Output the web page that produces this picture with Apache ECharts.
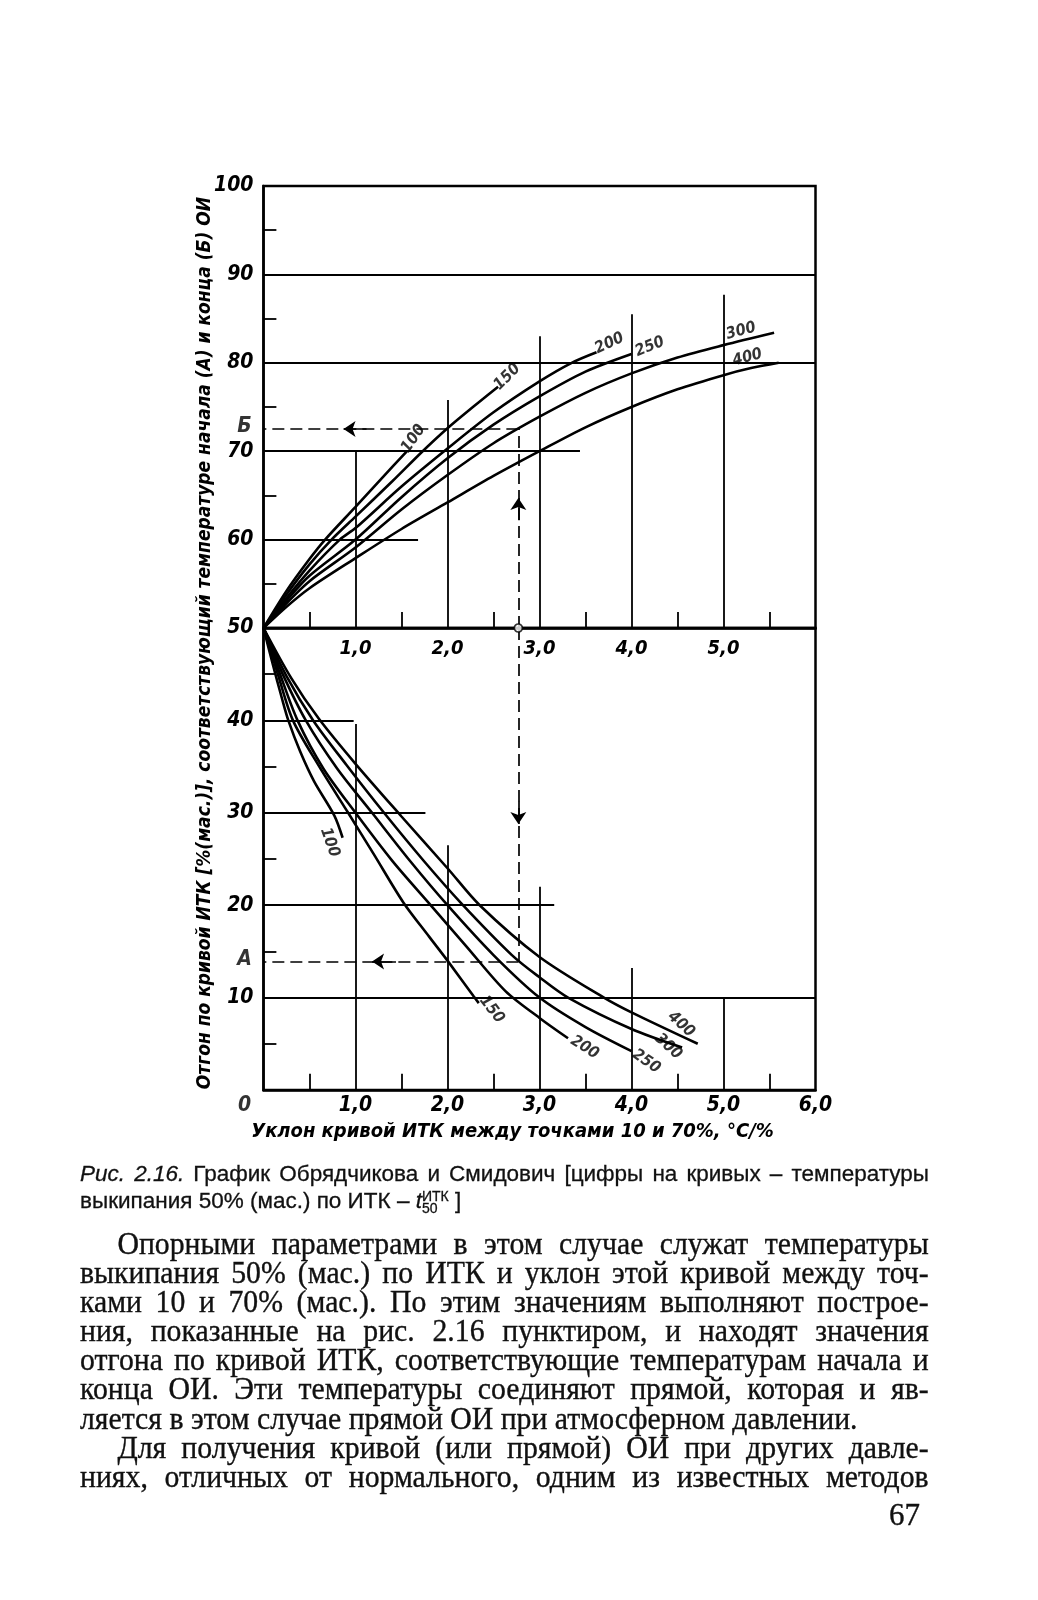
<!DOCTYPE html>
<html><head><meta charset="utf-8">
<script src="https://cdn.jsdelivr.net/npm/echarts/dist/echarts.min.js"></script>
<style>
html,body{margin:0;padding:0;background:#fff;}
#page{position:relative;width:1038px;height:1600px;overflow:hidden;background:#fff;}
#chart{position:absolute;left:0;top:0;width:1038px;height:1600px;}
.blk{position:absolute;left:80px;transform-origin:0 0;color:#111;white-space:nowrap;}
.j{text-align:justify;text-align-last:justify;}
.l{text-align:left;}
#cap{top:1161px;width:849px;font-family:'Liberation Sans','Arial',sans-serif;font-size:22.5px;line-height:26.5px;-webkit-text-stroke:0.3px #111;}
#body{top:1229px;width:884px;transform:scaleX(0.96);font-family:'Liberation Serif','Times New Roman',serif;font-size:31px;line-height:29.1px;-webkit-text-stroke:0.35px #111;}
.ss{display:inline-block;vertical-align:middle;line-height:12px;font-size:14px;text-align:left;}
.ss span{display:block;}
#pg{position:absolute;left:889px;top:1497px;font-family:'Liberation Serif',serif;font-size:31px;color:#111;-webkit-text-stroke:0.35px #111;}
</style></head>
<body><div id="page">
<div id="chart"></div>
<div id="cap" class="blk">
<div class="j"><i>Рис. 2.16.</i> График Обрядчикова и Смидович [цифры на кривых – температуры</div>
<div class="l">выкипания 50% (мас.) по ИТК – <i>t</i><span class="ss"><span>ИТК</span><span>50</span></span> ]</div>
</div>
<div id="body" class="blk">
<div class="j" style="padding-left:39px">Опорными параметрами в этом случае служат температуры</div>
<div class="j">выкипания 50% (мас.) по ИТК и уклон этой кривой между точ-</div>
<div class="j">ками 10 и 70% (мас.). По этим значениям выполняют построе-</div>
<div class="j">ния, показанные на рис. 2.16 пунктиром, и находят значения</div>
<div class="j">отгона по кривой ИТК, соответствующие температурам начала и</div>
<div class="j">конца ОИ. Эти температуры соединяют прямой, которая и яв-</div>
<div class="l">ляется в этом случае прямой ОИ при атмосферном давлении.</div>
<div class="j" style="padding-left:39px">Для получения кривой (или прямой) ОИ при других давле-</div>
<div class="j">ниях, отличных от нормального, одним из известных методов</div>
</div>
<div id="pg">67</div>
</div>
<script>
// ---- axis tick labels ----
const xLabels = ['0','1,0','2,0','3,0','4,0','5,0','6,0'];
const curveTemps = ['100','150','200','250','300','400'];

// ---- upper family (end temperature, Б), y from 50 to 100 ----
const up100 = [[0,50],[0.25,54.2],[0.5,57.8],[0.67,60],[1.0,63.7],[1.3,67.1],[1.56,70]];
const up150 = [[0,50],[0.25,53.8],[0.5,57.2],[0.74,60],[1.0,62.6],[1.4,66.6],[1.73,70],[2.0,72.6],[2.3,75.2],[2.55,77.3]];
const up200 = [[0,50],[0.25,53.4],[0.5,56.5],[0.83,60],[1.0,61.3],[1.5,66.0],[2.0,70.3],[2.5,74.4],[3.0,77.9],[3.35,80],[3.62,81.2]];
const up250 = [[0,50],[0.25,53.1],[0.5,55.9],[1.0,60],[1.5,64.8],[2.0,69.2],[2.5,73.0],[3.0,76.2],[3.5,79.0],[4.0,81.0]];
const up300 = [[0,50],[0.25,52.8],[0.5,55.3],[1.0,59.1],[1.5,63.4],[2.0,67.3],[2.5,70.9],[3.0,73.9],[3.5,76.6],[4.0,78.8],[4.5,80.6],[5.0,82.0],[5.55,83.4]];
const up400 = [[0,50],[0.25,52.4],[0.5,54.5],[1.0,57.9],[1.5,61.2],[2.0,64.2],[2.5,67.2],[3.0,70.0],[3.5,72.7],[4.0,75.0],[4.5,77.0],[5.0,78.6],[5.3,79.4],[5.6,80.0]];

// ---- lower family (start temperature, A), y from 0 to 50 ----
const low100 = [[0,50],[0.1,46.1],[0.2,42.4],[0.27,40],[0.4,36.6],[0.55,33.4],[0.77,29.7],[0.86,27.3]];
const low150 = [[0,50],[0.15,45.2],[0.32,40],[0.6,35.1],[0.92,30],[1.2,25.5],[1.52,20.3],[1.8,16.6],[2.0,14.0],[2.28,10.2],[2.34,9.4]];
const low200 = [[0,50],[0.18,45],[0.37,40],[0.65,34.8],[1.0,30],[1.4,24.8],[1.8,20.2],[2.2,15.6],[2.63,10.7],[3.0,7.8],[3.31,5.6]];
const low250 = [[0,50],[0.2,45.2],[0.46,40],[0.8,34.8],[1.18,30],[1.6,24.7],[2.0,20],[2.5,14.6],[3.0,10],[3.5,6.8],[4.0,4.2]];
const low300 = [[0,50],[0.25,44.8],[0.54,40],[0.9,35.2],[1.31,30],[1.75,24.7],[2.15,20.2],[2.7,14.6],[3.0,12.2],[3.31,10],[4.0,6.6],[4.55,4.6]];
const low400 = [[0,50],[0.3,44.6],[0.6,40.2],[1.0,35.3],[1.5,29.6],[2.0,24.0],[2.35,20],[3.0,14.4],[3.7,10],[4.0,8.4],[4.72,5.0]];

// ---- curve label anchors [x, y, rotation] ----
const upLabelPos = [[1.63,71.4,55],[2.65,78.4,45],[3.76,82.2,25],[4.2,81.8,22],[5.19,83.6,15],[5.26,80.6,15]];
const lowLabelPos = [[0.72,26.8,-70],[2.48,8.7,-52],[3.49,4.6,-32],[4.16,3.1,-35],[4.4,4.7,-42],[4.54,7.1,-42]];

// ---- construction (dashed) ----
const slopeX = 2.77;
const pointB = 72.5;
const pointA = 13.9;

// ---- nomogram grid segments ----
const upFullH = [90,80];
const lowFullH = [10];
const upPartH = [[70,3.44],[60,1.68]];
const lowPartH = [[40,0.98],[30,1.76],[20,3.16]];
const upperV = [[1,70],[2,75.8],[3,83.0],[4,85.5],[5,87.7]];
const lowerV = [[1,39.6],[2,26.5],[3,22.0],[4,13.2],[5,10]];
const upTicks = [95,85,75,65,55];
const lowTicks = [45,35,25,15,5];
const halfTicks = [0.5,1.5,2.5,3.5,4.5,5.5];

const FONT = "'DejaVu Sans Condensed','Liberation Sans Narrow','DejaVu Sans',sans-serif";
const lblStyle = {fontFamily: FONT, fontStyle:'italic', fontWeight:'bold', color:'#000'};

const seg = (a,b) => ({coords:[a,b]});
const upHeavy = upFullH.map(y => seg([0,y],[6,y]));
const lowHeavy = lowFullH.map(y => seg([0,y],[6,y]));
const upLight = [], lowLight = [];
upPartH.forEach(([y,x1]) => upLight.push(seg([0,y],[x1,y])));
lowPartH.forEach(([y,x1]) => lowLight.push(seg([0,y],[x1,y])));
upperV.forEach(([x,y1]) => upLight.push(seg([x,50],[x,y1])));
lowerV.forEach(([x,y1]) => lowLight.push(seg([x,0],[x,y1])));
upTicks.forEach(y => upLight.push(seg([0,y],[0.14,y])));
lowTicks.forEach(y => lowLight.push(seg([0,y],[0.14,y])));
halfTicks.forEach(x => { upLight.push(seg([x,50],[x,51.8])); lowLight.push(seg([x,0],[x,1.75])); });

const linesSeries = (data, g, w, extra) => Object.assign({
  type:'lines', coordinateSystem:'cartesian2d', xAxisIndex:g, yAxisIndex:g, data:data, silent:true,
  symbol:'none', lineStyle:{color:'#000', width:w, opacity:1}, z:3
}, extra || {});

const curveSeries = [];
[up100,up150,up200,up250,up300,up400].forEach(d => curveSeries.push({
  type:'line', xAxisIndex:0, yAxisIndex:0, data:d, smooth:0.3, symbol:'none', silent:true,
  lineStyle:{color:'#000', width:2.6}, z:5}));
[low100,low150,low200,low250,low300,low400].forEach(d => curveSeries.push({
  type:'line', xAxisIndex:1, yAxisIndex:1, data:d, smooth:0.3, symbol:'none', silent:true,
  lineStyle:{color:'#000', width:2.6}, z:5}));

const upLabels = upLabelPos.map((p,i) => ({value:[p[0],p[1]], name:curveTemps[i], label:{rotate:p[2]}}));
const lowLabels = lowLabelPos.map((p,i) => ({value:[p[0],p[1]], name:curveTemps[i], label:{rotate:p[2]}}));

const yTitle = 'Отгон по кривой ИТК [%(мас.)], соответствующий температуре начала (А) и конца (Б) ОИ';

const axisCommon = {
  axisLine:{show:true, lineStyle:{color:'#000', width:2.5}}, axisTick:{show:false}, splitLine:{show:false}
};
const markLabel = (g, items, offset) => ({
  type:'scatter', xAxisIndex:g, yAxisIndex:g, data:items, symbolSize:0, silent:true, z:9,
  label:Object.assign({show:true, position:'inside', fontSize:21, offset:offset, formatter:p => p.data.name}, lblStyle)
});

const option = {
  animation:false,
  backgroundColor:'transparent',
  grid:[
    {left:263.5, top:186, width:552, height:442, show:true, borderColor:'#000', borderWidth:2.5},
    {left:263.5, top:628, width:552, height:462, show:true, borderColor:'#000', borderWidth:2.5}
  ],
  xAxis:[
    Object.assign({type:'value', gridIndex:0, min:0, max:6, interval:1,
      axisLabel:Object.assign({fontSize:20, margin:11, formatter:v => (v>0 && v<6) ? xLabels[Math.round(v)] : ''}, lblStyle)}, axisCommon),
    Object.assign({type:'value', gridIndex:1, min:0, max:6, interval:1,
      axisLabel:Object.assign({fontSize:21, margin:5, formatter:v => v===0 ? '' : xLabels[Math.round(v)]}, lblStyle),
      name:'Уклон кривой ИТК между точками 10 и 70%, °C/%', nameLocation:'middle', nameGap:32,
      nameTextStyle:{fontFamily:FONT, fontStyle:'italic', fontWeight:'bold', fontSize:20, color:'#000', padding:[0,54,0,0]}}, axisCommon)
  ],
  yAxis:[
    Object.assign({type:'value', gridIndex:0, min:50, max:100, interval:10,
      axisLabel:Object.assign({fontSize:21, margin:10, formatter:v => v===50 ? '' : String(v)}, lblStyle)}, axisCommon),
    Object.assign({type:'value', gridIndex:1, min:0, max:50, interval:10,
      axisLabel:Object.assign({fontSize:21, margin:10, formatter:v => v===0 ? '' : String(v)}, lblStyle)}, axisCommon)
  ],
  graphic:[{type:'text', x:205, y:643, rotation:Math.PI/2, silent:true,
    style:{text:yTitle, x:0, y:0, align:'center', verticalAlign:'middle', fill:'#000',
      font:"italic bold 19px 'DejaVu Sans Condensed','DejaVu Sans',sans-serif"}}],
  series:[
    linesSeries(upHeavy,0,2.2), linesSeries(lowHeavy,1,2.2),
    linesSeries(upLight,0,1.8), linesSeries(lowLight,1,1.8),
    ...curveSeries,
    linesSeries([seg([slopeX,50],[slopeX,pointB]), seg([slopeX,pointB],[0,pointB])],0,1.7,{lineStyle:{color:'#000',width:1.7,type:[12,6],opacity:1},z:6}),
    linesSeries([seg([slopeX,50],[slopeX,pointA]), seg([slopeX,pointA],[0,pointA])],1,1.7,{lineStyle:{color:'#000',width:1.7,type:[12,6],opacity:1},z:6}),
    linesSeries([seg([1.12,pointB],[0.87,pointB]), seg([slopeX,62.2],[slopeX,64.7])],0,1.7,{symbol:['none','arrow'], symbolSize:12, z:7}),
    linesSeries([seg([1.44,pointA],[1.18,pointA]), seg([slopeX,31.2],[slopeX,28.8])],1,1.7,{symbol:['none','arrow'], symbolSize:12, z:7}),
    {type:'scatter', xAxisIndex:0, yAxisIndex:0, data:[[slopeX,50]], symbol:'circle', symbolSize:8, silent:true, z:8,
      itemStyle:{color:'#fff', borderColor:'#000', borderWidth:1.7}},
    {type:'scatter', xAxisIndex:0, yAxisIndex:0, data:upLabels, symbolSize:0, silent:true, z:9,
      label:Object.assign({show:true, position:'inside', fontSize:16, formatter:p => p.data.name}, lblStyle)},
    {type:'scatter', xAxisIndex:1, yAxisIndex:1, data:lowLabels, symbolSize:0, silent:true, z:9,
      label:Object.assign({show:true, position:'inside', fontSize:16, formatter:p => p.data.name}, lblStyle)},
    markLabel(0, [{value:[0,pointB], name:'Б'}], [-19,-3]),
    markLabel(1, [{value:[0,pointA], name:'A'}], [-19,-2]),
    markLabel(1, [{value:[0,0], name:'0'}], [-19,16])
  ]
};
const chart = echarts.init(document.getElementById('chart'), null, {renderer:'canvas'});
chart.setOption(option);
</script>
</body></html>
